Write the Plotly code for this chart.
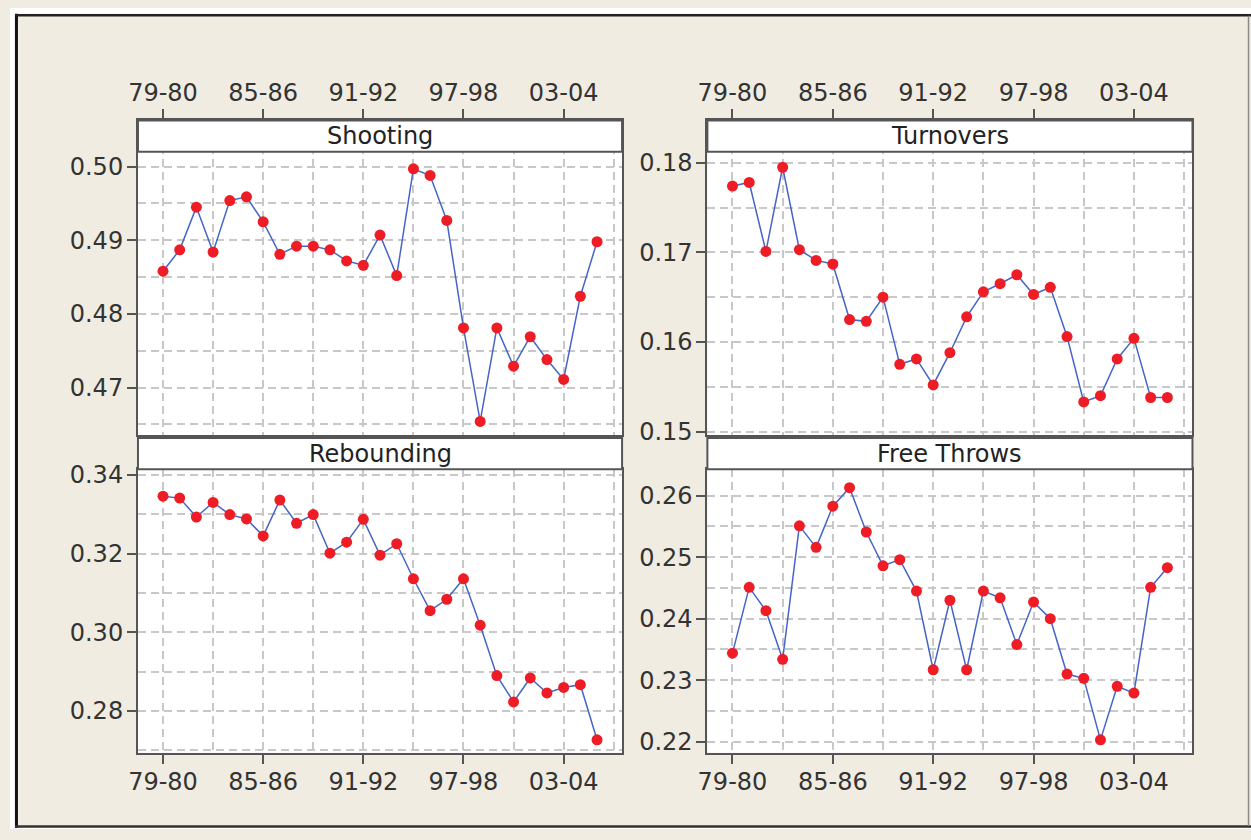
import plotly.graph_objects as go

seasons = ["79-80", "80-81", "81-82", "82-83", "83-84", "84-85", "85-86", "86-87",
           "87-88", "88-89", "89-90", "90-91", "91-92", "92-93", "93-94", "94-95",
           "95-96", "96-97", "97-98", "98-99", "99-00", "00-01", "01-02", "02-03",
           "03-04", "04-05", "05-06"]

shooting = [0.4858, 0.4887, 0.4945, 0.4884, 0.4954, 0.4959, 0.4925, 0.4881, 0.4892,
            0.4892, 0.4887, 0.4872, 0.4866, 0.4907, 0.4852, 0.4997, 0.4988, 0.4927,
            0.4781, 0.4654, 0.4781, 0.4729, 0.4769, 0.4738, 0.4711, 0.4824, 0.4898]
turnovers = [0.1774, 0.1778, 0.1701, 0.1795, 0.1703, 0.1691, 0.1687, 0.1625, 0.1623,
             0.1650, 0.1575, 0.1581, 0.1552, 0.1588, 0.1628, 0.1656, 0.1665, 0.1675,
             0.1653, 0.1661, 0.1606, 0.1533, 0.1540, 0.1581, 0.1604, 0.1538, 0.1538]
rebounding = [0.3346, 0.3341, 0.3293, 0.3330, 0.3299, 0.3288, 0.3245, 0.3336, 0.3277,
              0.3299, 0.3201, 0.3229, 0.3287, 0.3196, 0.3225, 0.3136, 0.3055, 0.3084,
              0.3136, 0.3018, 0.2890, 0.2823, 0.2884, 0.2846, 0.2860, 0.2867, 0.2727]
free_throws = [0.2344, 0.2451, 0.2413, 0.2334, 0.2551, 0.2516, 0.2583, 0.2613, 0.2541,
               0.2486, 0.2496, 0.2445, 0.2317, 0.2430, 0.2317, 0.2445, 0.2434, 0.2358,
               0.2427, 0.2400, 0.2310, 0.2303, 0.2203, 0.2290, 0.2279, 0.2451, 0.2483]

panel_titles = ["Shooting", "Turnovers", "Rebounding", "Free Throws"]
x_label_seasons = ["79-80", "85-86", "91-92", "97-98", "03-04"]

shooting_ticks = [0.47, 0.48, 0.49, 0.50]
shooting_minor = [0.465, 0.475, 0.485, 0.495, 0.505]
turnovers_ticks = [0.15, 0.16, 0.17, 0.18]
turnovers_minor = [0.155, 0.165, 0.175, 0.185]
rebounding_ticks = [0.28, 0.30, 0.32, 0.34]
rebounding_minor = [0.27, 0.29, 0.31, 0.33]
free_throws_ticks = [0.22, 0.23, 0.24, 0.25, 0.26]
free_throws_minor = [0.225, 0.235, 0.245, 0.255]

# ---- layout geometry (pixels in a 1251 x 840 figure) ----
W, H = 1251, 840
def px_x(v):
    return v / W
def px_y(v):
    return 1 - v / H

col_x = [(129, 617), (703, 1192)]
top_plot = (115, 437)        # includes header strip
top_header = (115, 147)
bot_header = (440, 472)
bot_plot = (472, 762)

BEIGE = "#f0ece2"
FONT = "DejaVu Sans"
TXT = "#333333"
AX = "#555555"
GRID = "#c8c8c8"

x_idx = list(range(len(seasons)))
xtickvals = [seasons.index(s) for s in x_label_seasons]
xminor = sorted(set([v + 3 for v in xtickvals]))

panels = [
    (shooting, shooting_ticks, shooting_minor, [0.46354, 0.50628], 0, top_plot, "top"),
    (turnovers, turnovers_ticks, turnovers_minor, [0.1496, 0.18473], 1, top_plot, "top"),
    (rebounding, rebounding_ticks, rebounding_minor, [0.2694, 0.34141], 0, bot_plot, "bottom"),
    (free_throws, free_throws_ticks, free_throws_minor, [0.2182, 0.26429], 1, bot_plot, "bottom"),
]

fig = go.Figure()
layout = {}
for i, (vals, yt, ym, yr, col, rowpx, side) in enumerate(panels, start=1):
    xa = "x" if i == 1 else f"x{i}"
    ya = "y" if i == 1 else f"y{i}"
    fig.add_trace(go.Scatter(
        x=x_idx, y=vals, xaxis=xa, yaxis=ya, mode="lines+markers",
        line=dict(color="#4565c8", width=1.5),
        marker=dict(color="#ee1c24", size=11, line=dict(width=0)),
        showlegend=False, hoverinfo="x+y"))
    x0, x1 = col_x[col]
    layout["xaxis" if i == 1 else f"xaxis{i}"] = dict(
        domain=[px_x(x0), px_x(x1)], anchor=ya, side=side,
        range=[-1.5, 27.5], tickmode="array", tickvals=xtickvals, ticktext=x_label_seasons,
        ticks="outside", ticklen=9, tickwidth=2, tickcolor=AX,
        ticklabelstandoff=(-1 if side == "top" else -3),
        showgrid=True, gridcolor=GRID, gridwidth=1.5, griddash="8px,5px",
        minor=dict(tickvals=xminor, showgrid=True, gridcolor=GRID, gridwidth=1.5,
                   griddash="8px,5px", ticks=""),
        showline=True, mirror=True, linecolor=AX, linewidth=2, zeroline=False,
        tickfont=dict(family=FONT, size=24, color=TXT), fixedrange=True)
    layout["yaxis" if i == 1 else f"yaxis{i}"] = dict(
        domain=[px_y(rowpx[1]), px_y(rowpx[0])], anchor=xa,
        range=yr, tickmode="array", tickvals=yt, tickformat=".2f",
        ticks="outside", ticklen=9, tickwidth=2, tickcolor=AX, ticklabelstandoff=-1,
        showgrid=True, gridcolor=GRID, gridwidth=1.5, griddash="8px,5px",
        minor=dict(tickvals=ym, showgrid=True, gridcolor=GRID, gridwidth=1.5,
                   griddash="8px,5px", ticks=""),
        showline=True, mirror=True, linecolor=AX, linewidth=2, zeroline=False,
        tickfont=dict(family=FONT, size=24, color=TXT), fixedrange=True)

shapes = [
    # white outside the frame (top and left strips, bottom edge)
    dict(type="rect", xref="paper", yref="paper", x0=0, x1=1, y0=px_y(6), y1=1,
         fillcolor="white", line=dict(width=0), layer="below"),
    dict(type="rect", xref="paper", yref="paper", x0=0, x1=px_x(5), y0=0, y1=1,
         fillcolor="white", line=dict(width=0), layer="below"),
    dict(type="rect", xref="paper", yref="paper", x0=0, x1=1, y0=0, y1=px_y(839),
         fillcolor="white", line=dict(width=0), layer="below"),
    # frame lines
    dict(type="line", xref="paper", yref="paper", x0=px_x(6.5), x1=px_x(6.5), y0=px_y(839), y1=px_y(6),
         line=dict(color="#111111", width=3), layer="below"),
    dict(type="line", xref="paper", yref="paper", x0=px_x(5), x1=1, y0=px_y(7.5), y1=px_y(7.5),
         line=dict(color="#222222", width=2.5), layer="below"),
    dict(type="line", xref="paper", yref="paper", x0=px_x(5), x1=1, y0=px_y(837.5), y1=px_y(837.5),
         line=dict(color="#333333", width=2.5), layer="below"),
    dict(type="line", xref="paper", yref="paper", x0=px_x(1248.5), x1=px_x(1248.5), y0=px_y(837), y1=px_y(8),
         line=dict(color="#8a8a8a", width=1.5), layer="below"),
]
annotations = []
headers = [(top_header, 0), (top_header, 1), (bot_header, 0), (bot_header, 1)]
for title, (hpx, col) in zip(panel_titles, headers):
    x0, x1 = col_x[col]
    shapes.append(dict(type="rect", xref="paper", yref="paper",
                       x0=px_x(x0), x1=px_x(x1), y0=px_y(hpx[1]), y1=px_y(hpx[0]),
                       fillcolor="white", line=dict(color=AX, width=2), layer="above"))
    annotations.append(dict(text=title, xref="paper", yref="paper",
                            x=px_x((x0 + x1) / 2), y=px_y((hpx[0] + hpx[1]) / 2),
                            xanchor="center", yanchor="middle", showarrow=False,
                            font=dict(family=FONT, size=24, color="#222222")))

fig.update_layout(
    **layout,
    width=W, height=H, autosize=False,
    margin=dict(l=0, r=0, t=0, b=0),
    paper_bgcolor=BEIGE, plot_bgcolor="white",
    shapes=shapes, annotations=annotations,
    showlegend=False,
)

page_fix = (
    "var h=document.documentElement, b=document.body;"
    "h.style.margin='0';h.style.padding='0';h.style.overflow='hidden';"
    "b.style.margin='0';b.style.padding='0';b.style.overflow='hidden';"
)

fig.write_html("out.html", config={"displayModeBar": False}, post_script=page_fix)
